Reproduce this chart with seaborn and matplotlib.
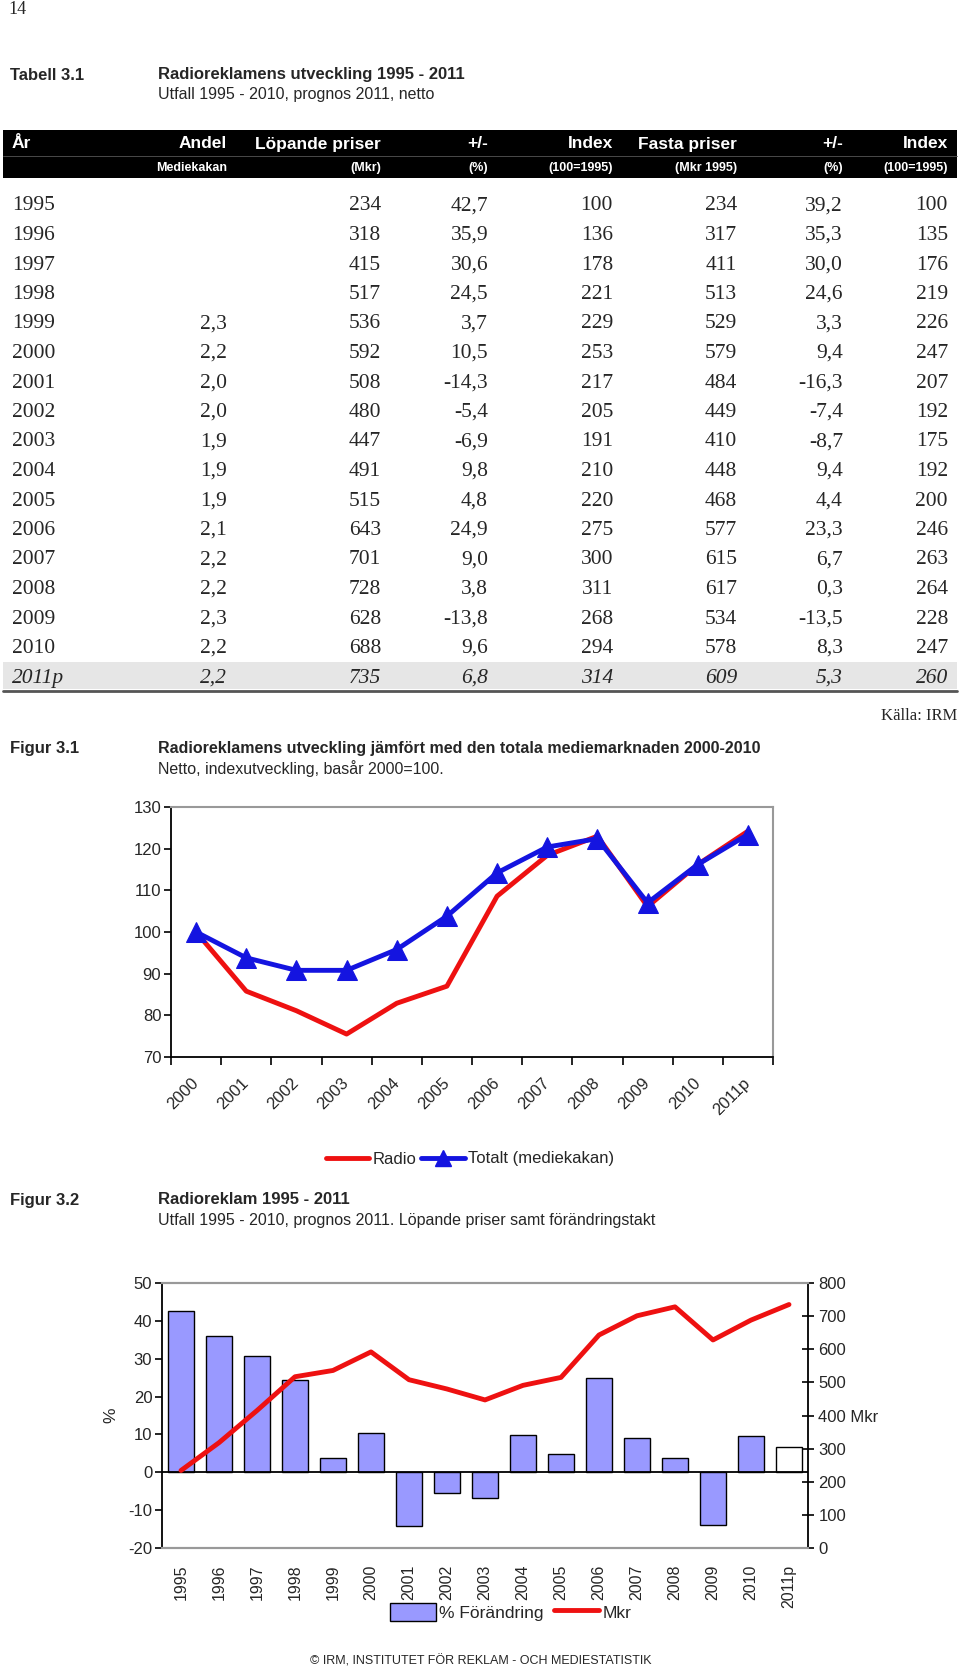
import numpy as np
import pandas as pd
import matplotlib
matplotlib.use('Agg')
import matplotlib.pyplot as plt
from matplotlib.lines import Line2D
from matplotlib.patches import Patch, Rectangle
import seaborn as sns

sns.set_theme(style='white')
plt.rcParams['font.family'] = ['Liberation Sans', 'DejaVu Sans']
plt.rcParams['axes.unicode_minus'] = False

W, H = 960, 1670

# ---- Tabell 3.1
years = ['1995', '1996', '1997', '1998', '1999', '2000', '2001', '2002', '2003',
         '2004', '2005', '2006', '2007', '2008', '2009', '2010', '2011p']
andel = ['', '', '', '', '2,3', '2,2', '2,0', '2,0', '1,9', '1,9', '1,9', '2,1',
         '2,2', '2,2', '2,3', '2,2', '2,2']
lop_mkr = [234, 318, 415, 517, 536, 592, 508, 480, 447, 491, 515, 643, 701, 728, 628, 688, 735]
lop_pct = [42.7, 35.9, 30.6, 24.5, 3.7, 10.5, -14.3, -5.4, -6.9, 9.8, 4.8, 24.9, 9.0, 3.8,
           -13.8, 9.6, 6.8]
lop_idx = [100, 136, 178, 221, 229, 253, 217, 205, 191, 210, 220, 275, 300, 311, 268, 294, 314]
fast_mkr = [234, 317, 411, 513, 529, 579, 484, 449, 410, 448, 468, 577, 615, 617, 534, 578, 609]
fast_pct = [39.2, 35.3, 30.0, 24.6, 3.3, 9.4, -16.3, -7.4, -8.7, 9.4, 4.4, 23.3, 6.7, 0.3,
            -13.5, 8.3, 5.3]
fast_idx = [100, 135, 176, 219, 226, 247, 207, 192, 175, 192, 200, 246, 263, 264, 228, 247, 260]

head1 = ['Andel', 'Löpande priser', '+/-', 'Index', 'Fasta priser', '+/-', 'Index']
head2 = ['Mediekakan', '(Mkr)', '(%)', '(100=1995)', '(Mkr 1995)', '(%)', '(100=1995)']

# ---- Figur 3.1
f1_years = ['2000', '2001', '2002', '2003', '2004', '2005', '2006', '2007', '2008',
            '2009', '2010', '2011p']
radio_idx = [100, 85.8, 81.1, 75.5, 82.9, 87.0, 108.6, 118.4, 123.0, 106.1, 116.2, 124.2]
totalt_idx = [100, 93.8, 90.8, 90.8, 95.8, 103.8, 114.2, 120.4, 122.4, 107.0, 116.2, 123.4]

RED = '#ee1111'
BLUE = '#1414e0'
BAR = '#9999ff'


def fx(x):
    return x / W


def fy(y):
    return 1 - y / H


def comma(v):
    return f'{v:.1f}'.replace('.', ',')


fig = plt.figure(figsize=(9.6, 16.7), dpi=100)
fig.patch.set_facecolor('white')

serif = ['Liberation Serif', 'DejaVu Serif']

fig.text(fx(8), fy(10), '14', family=serif, fontsize=13, va='center')

# titles
fig.text(fx(10), fy(75), 'Tabell 3.1', fontsize=12, weight='bold', va='center')
fig.text(fx(158), fy(75), 'Radioreklamens utveckling 1995 - 2011', fontsize=12,
         weight='bold', va='center')
fig.text(fx(158), fy(95), 'Utfall 1995 - 2010, prognos 2011, netto', fontsize=11.5, va='center')

# header band
fig.add_artist(Rectangle((fx(3), fy(178)), 954 / W, 48 / H, transform=fig.transFigure,
                         facecolor='black', edgecolor='none'))
fig.add_artist(Line2D([fx(3), fx(957)], [fy(156), fy(156)], transform=fig.transFigure,
                      color='#555555', lw=0.6))
col_right = [227, 381, 488, 613, 737, 843, 948]
fig.text(fx(12), fy(144), 'År', color='white', fontsize=12.5, weight='bold', va='center')
for xr, h1, h2 in zip(col_right, head1, head2):
    fig.text(fx(xr), fy(144), h1, color='white', fontsize=12.5, weight='bold',
             ha='right', va='center')
    fig.text(fx(xr), fy(168), h2, color='white', fontsize=9, weight='bold',
             ha='right', va='center')

# body
fig.add_artist(Rectangle((fx(3), fy(689)), 954 / W, 27 / H, transform=fig.transFigure,
                         facecolor='#e6e6e6', edgecolor='none'))
fig.add_artist(Line2D([fx(3), fx(957)], [fy(690.5), fy(690.5)], transform=fig.transFigure,
                      color='#555555', lw=2))
for i, yr in enumerate(years):
    y = 206 + i * 29.5
    style = 'italic' if yr.endswith('p') else 'normal'
    cells = [andel[i], str(lop_mkr[i]), comma(lop_pct[i]), str(lop_idx[i]),
             str(fast_mkr[i]), comma(fast_pct[i]), str(fast_idx[i])]
    fig.text(fx(12), fy(y), yr, family=serif, fontsize=15.5, style=style, va='center')
    for xr, c in zip(col_right, cells):
        fig.text(fx(xr), fy(y), c, family=serif, fontsize=15.5, style=style,
                 ha='right', va='center')

fig.text(fx(957), fy(716), 'Källa: IRM', family=serif, fontsize=12, ha='right', va='center')

# ---- Figur 3.1 chart
fig.text(fx(10), fy(748), 'Figur 3.1', fontsize=12, weight='bold', va='center')
fig.text(fx(158), fy(748),
         'Radioreklamens utveckling jämfört med den totala mediemarknaden 2000-2010',
         fontsize=11.5, weight='bold', va='center')
fig.text(fx(158), fy(769), 'Netto, indexutveckling, basår 2000=100.', fontsize=11.5, va='center')

ax1 = fig.add_axes([fx(171), fy(1057), (773 - 171) / W, (1057 - 807) / H])
pos1 = np.arange(len(f1_years))
sns.lineplot(x=pos1, y=radio_idx, color=RED, lw=3.5, ax=ax1)
sns.lineplot(x=pos1, y=totalt_idx, color=BLUE, lw=3.5, marker='^', markersize=15,
             mec=BLUE, mfc=BLUE, ax=ax1)
ax1.set_xlim(-0.5, len(f1_years) - 0.5)
ax1.set_ylim(70, 130)
ax1.set_yticks(range(70, 131, 10))
ax1.set_xticks(pos1)
ax1.set_xticklabels(f1_years, rotation=45, ha='right', va='center', rotation_mode='anchor')
ax1.set_xticks(np.arange(-0.5, len(f1_years)), minor=True)
ax1.tick_params(axis='x', which='major', length=0, pad=17, labelsize=12)
ax1.tick_params(axis='x', which='minor', length=6, width=1.2, direction='out',
                color='black', bottom=True)
ax1.tick_params(axis='y', length=5, width=1.2, direction='out', color='black',
                left=True, labelsize=12, pad=2)
for s in ['left', 'bottom']:
    ax1.spines[s].set_color('black')
    ax1.spines[s].set_linewidth(1.3)
for s in ['top', 'right']:
    ax1.spines[s].set_color('#999999')
    ax1.spines[s].set_linewidth(1.5)

h1 = [Line2D([], [], color=RED, lw=3.5),
      Line2D([], [], color=BLUE, lw=3.5, marker='^', markersize=11)]
fig.legend(h1, ['Radio', 'Totalt (mediekakan)'], loc='center',
           bbox_to_anchor=(fx(470), fy(1159)), ncol=2, frameon=False, fontsize=12,
           handlelength=2.6, handletextpad=0.2, columnspacing=0.3)

# ---- Figur 3.2 chart
fig.text(fx(10), fy(1200), 'Figur 3.2', fontsize=12, weight='bold', va='center')
fig.text(fx(158), fy(1200), 'Radioreklam 1995 - 2011', fontsize=12, weight='bold', va='center')
fig.text(fx(158), fy(1221), 'Utfall 1995 - 2010, prognos 2011. Löpande priser samt förändringstakt',
         fontsize=11.5, va='center')

df2 = pd.DataFrame({'year': years, 'pct': lop_pct,
                    'typ': ['utfall'] * (len(years) - 1) + ['prognos']})
ax2 = fig.add_axes([fx(162), fy(1548), (808 - 162) / W, (1548 - 1283) / H])
sns.barplot(data=df2, x='year', y='pct', hue='typ',
            palette={'utfall': BAR, 'prognos': 'white'}, dodge=False, width=0.66,
            saturation=1, edgecolor='black', linewidth=1, legend=False, ax=ax2)
ax2.axhline(0, color='black', lw=1.3)
ax2.set_xlim(-0.5, len(years) - 0.5)
ax2.set_ylim(-20, 50)
ax2.set_yticks(range(-20, 51, 10))
ax2.set_xlabel('')
ax2.set_ylabel('')
ax2.set_xticks(np.arange(len(years)))
ax2.set_xticklabels(years, rotation=90, ha='center', va='top')
ax2.tick_params(axis='x', length=0, pad=12, labelsize=11.5)
ax2.tick_params(axis='y', length=5, width=1.2, direction='out', color='black',
                left=True, labelsize=12, pad=2)

ax2r = ax2.twinx()
sns.lineplot(x=np.arange(len(years)), y=lop_mkr, color=RED, lw=3.5, ax=ax2r)
ax2r.set_ylim(0, 800)
ax2r.set_yticks(range(0, 801, 100))
ax2r.set_yticklabels([f'{v} Mkr' if v == 400 else str(v) for v in range(0, 801, 100)])
ax2r.tick_params(axis='y', length=9, width=1.2, direction='inout', color='black',
                 right=True, labelsize=12, pad=3)
ax2r.grid(False)

for a in (ax2, ax2r):
    a.spines['top'].set_color('#999999')
    a.spines['bottom'].set_color('#999999')
    a.spines['top'].set_linewidth(1.5)
    a.spines['bottom'].set_linewidth(1.5)
ax2.spines['left'].set_color('black')
ax2.spines['left'].set_linewidth(1.3)
ax2r.spines['right'].set_color('black')
ax2r.spines['right'].set_linewidth(1.3)
ax2.spines['right'].set_visible(False)
ax2r.spines['left'].set_visible(False)

fig.text(fx(111), fy(1415), '%', fontsize=12.5, rotation=90, ha='center', va='center')

h2 = [Patch(facecolor=BAR, edgecolor='black'), Line2D([], [], color=RED, lw=3.5)]
fig.legend(h2, ['% Förändring', 'Mkr'], loc='center',
           bbox_to_anchor=(fx(511), fy(1612)), ncol=2, frameon=False, fontsize=12.5,
           handlelength=2.6, handleheight=1.2, handletextpad=0.2, columnspacing=0.6)

fig.text(fx(481), fy(1661), '© IRM, INSTITUTET FÖR REKLAM - OCH MEDIESTATISTIK',
         fontsize=9, ha='center', va='center')

fig.savefig('out.png', dpi=100)
